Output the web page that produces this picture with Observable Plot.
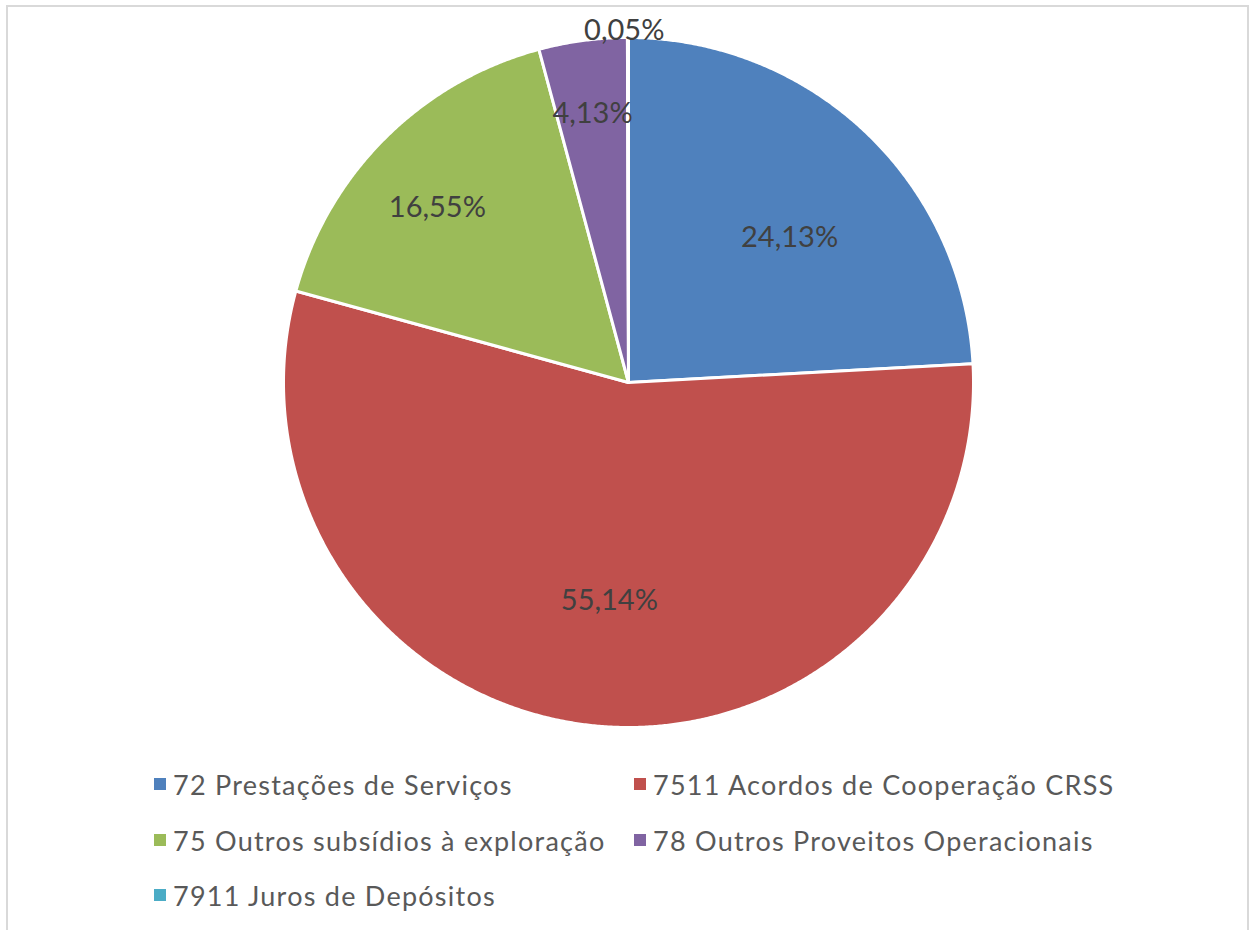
<!DOCTYPE html>
<html>
<head>
<meta charset="utf-8">
<script src="https://cdn.jsdelivr.net/npm/d3@7"></script>
<script src="https://cdn.jsdelivr.net/npm/@observablehq/plot@0.6"></script>
<style>
  html, body { margin: 0; padding: 0; background: #fff; }
  body { width: 1250px; height: 930px; position: relative; overflow: hidden; font-family: Lato, "Open Sans", sans-serif; }
  #frame { position: absolute; left: 6px; top: 5px; width: 1243px; height: 940px; border: 2px solid #d9d9d9; box-sizing: border-box; }
  #chart { position: absolute; left: 0; top: 0; }
  .leg { position: absolute; display: flex; align-items: center; font-size: 27px; letter-spacing: 1.25px; color: #595959; white-space: nowrap; }
  .leg .sw { width: 12px; height: 12px; margin-right: 7px; }
</style>
</head>
<body>
<div id="frame"></div>
<div id="chart"></div>
<div id="legend"></div>
<script>
// ---- data ----
const categories = [
  "72 Prestações de Serviços",
  "7511 Acordos de Cooperação CRSS",
  "75 Outros subsídios à exploração",
  "78 Outros Proveitos Operacionais",
  "7911 Juros de Depósitos"
];
const shares = [24.13, 55.14, 16.55, 4.13, 0.05];
const labels = ["24,13%", "55,14%", "16,55%", "4,13%", "0,05%"];
const colors = ["#4F81BD", "#C0504D", "#9BBB59", "#8064A2", "#4BACC6"];
// label placement (layout): distance from centre as a fraction of the radius,
// and angular shift from the slice's mid-angle, in degrees
const labelRadius = [0.628, 0.634, 0.751, 0.787, 1.02];
const labelShift = [4.6, -1.1, -2.7, 0, -0.6];

// ---- layout ----
const W = 1250, H = 760, CX = 628, CY = 382, R = 345;

const pie = d3.pie().sort(null).value(d => d.share)(
  categories.map((c, i) => ({cat: c, share: shares[i], label: labels[i], i}))
);

// polygon points for each slice (angles clockwise from 12 o'clock)
const pts = [];
for (const s of pie) {
  pts.push({cat: s.data.cat, x: 0, y: 0});
  const n = Math.max(2, Math.ceil((s.endAngle - s.startAngle) / 0.005));
  for (let k = 0; k <= n; k++) {
    const a = s.startAngle + (s.endAngle - s.startAngle) * k / n;
    pts.push({cat: s.data.cat, x: Math.sin(a), y: Math.cos(a)});
  }
}
const labelPts = pie.map(s => {
  const a = (s.startAngle + s.endAngle) / 2 + labelShift[s.data.i] * Math.PI / 180;
  const r = labelRadius[s.data.i];
  return {label: s.data.label, x: r * Math.sin(a), y: r * Math.cos(a)};
});

const chart = Plot.plot({
  width: W, height: H,
  margin: 0,
  x: {domain: [-1, 1], range: [CX - R, CX + R], axis: null},
  y: {domain: [-1, 1], range: [CY + R, CY - R], axis: null},
  color: {domain: categories, range: colors},
  style: {background: "transparent"},
  marks: [
    Plot.line(pts, {x: "x", y: "y", z: "cat", fill: "cat", stroke: "white", strokeWidth: 3, curve: "linear-closed", strokeLinejoin: "round"}),
    Plot.text(labelPts, {x: "x", y: "y", text: "label", fontSize: 29, fill: "#404040", fontFamily: "Lato"})
  ]
});
document.getElementById("chart").appendChild(chart);

// ---- legend ----
const legPos = [[154, 784], [634, 784], [154, 840], [634, 840], [154, 895]];
const legend = document.getElementById("legend");
categories.forEach((c, i) => {
  const el = document.createElement("div");
  el.className = "leg";
  el.style.left = legPos[i][0] + "px";
  el.style.top = (legPos[i][1] - 18) + "px";
  el.style.height = "36px";
  el.innerHTML = `<span class="sw" style="background:${colors[i]}"></span><span>${c}</span>`;
  legend.appendChild(el);
});
</script>
</body>
</html>
